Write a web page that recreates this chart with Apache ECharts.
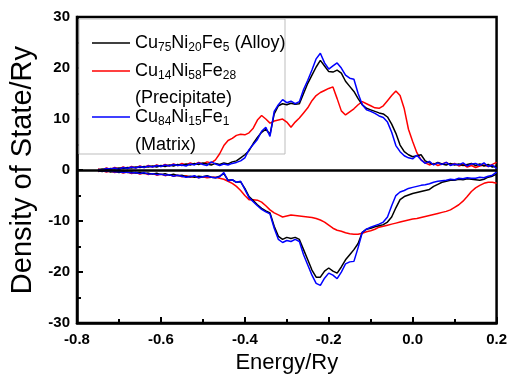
<!DOCTYPE html>
<html>
<head>
<meta charset="utf-8">
<script src="https://cdn.jsdelivr.net/npm/echarts@6/dist/echarts.min.js"></script>
<style>
  html, body { margin: 0; padding: 0; background: #fff; }
  #main { width: 510px; height: 379px; }
</style>
</head>
<body>
<div id="main"></div>
<script>
var energy = [
  -0.75, -0.74, -0.73, -0.72, -0.71, -0.70, -0.69, -0.68, -0.67, -0.66,
  -0.65, -0.64, -0.63, -0.62, -0.61, -0.60, -0.59, -0.58, -0.57, -0.56,
  -0.55, -0.54, -0.53, -0.52, -0.51, -0.50, -0.49, -0.48, -0.47, -0.46,
  -0.45, -0.44, -0.43, -0.42, -0.41, -0.40, -0.39, -0.38, -0.37, -0.36,
  -0.35, -0.34, -0.33, -0.32, -0.31, -0.30, -0.29, -0.28, -0.27, -0.26,
  -0.25, -0.24, -0.23, -0.22, -0.21, -0.20, -0.19, -0.18, -0.17, -0.16,
  -0.15, -0.14, -0.13, -0.12, -0.11, -0.10, -0.09, -0.08, -0.07, -0.06,
  -0.05, -0.04, -0.03, -0.02, -0.01, 0.00, 0.01, 0.02, 0.03, 0.04,
  0.05, 0.06, 0.07, 0.08, 0.09, 0.10, 0.11, 0.12, 0.13, 0.14,
  0.15, 0.16, 0.17, 0.18, 0.19, 0.20
];

// spin up (positive)
var alloyUp = [
  0.0, 0.2, 0.1, 0.3, 0.2, 0.4, 0.3, 0.5, 0.4, 0.6,
  0.5, 0.7, 0.6, 0.8, 0.6, 0.9, 0.7, 1.0, 0.8, 1.1,
  0.9, 1.2, 1.0, 1.3, 1.1, 1.4, 1.2, 1.0, 1.3, 1.1,
  1.4, 1.2, 1.6, 1.8, 2.4, 3.0, 3.8, 5.2, 6.4, 7.4,
  8.0, 7.0, 11.0, 12.6, 13.0, 12.8, 13.1, 12.9, 13.0, 15.0,
  17.0, 18.6, 20.2, 21.5, 20.4, 19.3, 19.2, 19.6, 19.0, 17.4,
  16.4, 15.4, 14.0, 12.8, 12.1, 11.8, 11.5, 11.2, 11.0, 10.4,
  9.0, 7.2, 4.9, 3.6, 3.0, 2.6, 2.8, 3.0, 1.8, 1.4,
  1.1, 1.5, 1.2, 1.0, 1.3, 1.0, 1.2, 0.9, 1.1, 1.3,
  0.9, 1.2, 0.8, 1.1, 0.6, 0.8
];
var precipUp = [
  0.2, 0.0, 0.4, 0.1, 0.5, 0.2, 0.6, 0.3, 0.7, 0.4,
  0.8, 0.5, 0.9, 0.6, 1.0, 0.7, 1.1, 0.8, 1.2, 0.9,
  1.3, 1.0, 1.4, 1.1, 1.5, 1.2, 1.6, 1.4, 2.0, 3.2,
  4.8, 5.8, 6.2, 6.8, 7.0, 6.9, 7.3, 8.2, 9.8, 10.7,
  10.0, 9.2, 9.6, 9.8, 10.0, 9.4, 8.4, 9.4, 10.2, 11.2,
  12.2, 13.6, 14.6, 15.2, 15.6, 16.0, 16.3, 14.0, 11.6, 10.8,
  11.4, 12.0, 12.8, 13.4, 13.0, 12.6, 12.2, 12.1, 12.6, 13.6,
  14.6, 15.5, 14.6, 12.0, 8.0, 5.6, 3.4, 2.0, 1.4, 1.0,
  1.3, 0.9, 1.2, 1.5, 1.0, 1.3, 0.8, 1.1, 0.6, 0.9,
  0.5, 0.8, 1.0, 0.7, 1.1, 1.5
];
var matrixUp = [
  0.1, 0.0, 0.3, 0.2, 0.4, 0.1, 0.5, 0.3, 0.6, 0.4,
  0.7, 0.5, 0.8, 0.6, 0.9, 0.7, 1.0, 0.8, 1.1, 0.9,
  1.0, 0.8, 1.2, 1.0, 1.4, 1.1, 0.9, 1.6, 1.2, 0.9,
  1.2, 1.0, 1.3, 1.5, 1.8, 2.4, 4.0, 5.0, 6.0, 7.6,
  8.4, 6.6, 11.5, 12.8, 13.8, 13.2, 13.5, 13.0, 13.4, 15.8,
  17.6, 19.6, 21.8, 22.9, 21.0, 19.8, 20.4, 21.0, 20.0, 18.6,
  18.0, 17.8, 15.0, 12.8, 11.8, 11.5, 11.1, 10.6, 10.3, 9.4,
  7.4, 4.8, 3.6, 2.8, 2.4, 2.2, 2.9, 2.0, 1.3, 1.7,
  1.0, 1.4, 1.1, 1.5, 0.9, 1.2, 1.0, 1.4, 0.8, 1.2,
  1.3, 0.9, 1.4, 0.7, 1.0, 0.3
];

// spin down (negative)
var alloyDown = [
  -0.1, -0.3, -0.1, -0.4, -0.2, -0.5, -0.3, -0.5, -0.4, -0.6,
  -0.5, -0.7, -0.6, -0.8, -0.6, -0.9, -0.7, -1.0, -0.8, -1.1,
  -1.0, -1.3, -1.2, -1.4, -1.2, -1.3, -1.1, -1.4, -1.5, -1.2,
  -0.7, -2.0, -1.9, -2.4, -2.3, -3.6, -5.2, -6.0, -6.8, -7.5,
  -8.0, -8.4, -11.0, -13.0, -13.6, -13.2, -13.4, -13.2, -13.6, -15.6,
  -17.6, -19.6, -21.0, -21.0, -19.8, -19.2, -19.8, -20.2, -19.0, -17.6,
  -16.6, -15.6, -14.4, -12.2, -11.6, -11.4, -11.1, -10.9, -10.7, -10.2,
  -9.2, -7.4, -5.8, -5.2, -4.9, -4.6, -4.4, -4.2, -4.0, -3.8,
  -3.2, -2.8, -2.4, -2.2, -2.0, -2.0, -1.8, -1.9, -1.7, -1.8,
  -1.9, -2.0, -1.8, -1.4, -1.2, -0.8
];
var precipDown = [
  -0.3, -0.1, -0.4, -0.2, -0.5, -0.3, -0.6, -0.4, -0.7, -0.5,
  -0.8, -0.6, -0.9, -0.7, -1.0, -0.8, -1.1, -0.9, -1.2, -1.0,
  -1.3, -1.1, -1.4, -1.2, -1.5, -1.3, -1.5, -1.4, -1.4, -1.6,
  -1.8, -2.2, -2.6, -3.2, -4.0, -5.0, -5.8, -5.8, -5.9, -6.3,
  -7.0, -7.8, -8.4, -8.8, -9.2, -9.0, -8.8, -8.9, -9.0, -9.1,
  -9.2, -9.3, -9.5, -9.8, -10.2, -10.8, -11.4, -11.8, -12.0, -12.3,
  -12.5, -12.6, -12.6, -12.4, -12.1, -11.9, -11.6, -11.2, -11.0, -10.8,
  -10.6, -10.4, -10.2, -10.0, -9.8, -9.6, -9.5, -9.3, -9.1, -8.9,
  -8.7, -8.5, -8.3, -8.1, -7.8, -7.3, -6.8, -6.1, -5.2, -4.2,
  -3.5, -3.0, -2.6, -2.4, -2.4, -2.6
];
var matrixDown = [
  -0.2, -0.1, -0.3, -0.2, -0.4, -0.3, -0.5, -0.4, -0.6, -0.5,
  -0.7, -0.5, -0.8, -0.7, -0.9, -0.8, -1.0, -0.9, -1.2, -1.0,
  -1.2, -1.4, -1.3, -1.1, -1.5, -1.3, -1.2, -1.4, -1.5, -1.3,
  -0.5, -2.1, -1.9, -2.4, -2.2, -3.8, -5.4, -6.2, -7.0, -7.7,
  -8.2, -8.6, -11.4, -13.6, -14.2, -13.8, -14.0, -13.6, -14.0, -16.6,
  -18.6, -20.6, -22.2, -22.6, -21.2, -20.2, -20.6, -21.3, -20.0, -18.4,
  -18.0, -17.9, -15.2, -12.2, -11.6, -11.2, -10.9, -10.6, -10.2, -9.2,
  -7.0, -5.0, -4.3, -4.0, -3.6, -3.4, -3.2, -3.0, -2.9, -2.7,
  -2.4, -2.2, -2.1, -2.0, -1.8, -1.9, -1.6, -1.7, -1.5, -1.6,
  -1.6, -1.4, -1.5, -1.2, -1.0, -0.4
];

var names = ['Cu75Ni20Fe5 (Alloy)', 'Cu14Ni58Fe28 (Precipitate)', 'Cu84Ni15Fe1 (Matrix)'];
var colors = ['#000000', '#ff0000', '#0000ff'];

function pairs(vals) {
  return energy.map(function (e, i) { return [e, vals[i]]; });
}

function line(name, color, vals, extra) {
  var s = {
    name: name,
    type: 'line',
    data: pairs(vals),
    showSymbol: false,
    symbol: 'none',
    lineStyle: { color: color, width: 1.5 },
    itemStyle: { color: color },
    z: 3
  };
  if (extra) s.markLine = extra;
  return s;
}

var zeroLine = {
  silent: true,
  symbol: 'none',
  label: { show: false },
  lineStyle: { color: '#000', width: 2.5, type: 'solid' },
  data: [{ yAxis: 0 }]
};

var labelFont = { fontFamily: 'Liberation Sans', fontWeight: 'bold', fontSize: 15, color: '#000' };

var rich = {
  n: { fontFamily: 'Liberation Sans', fontSize: 18, color: '#000', lineHeight: 22 },
  s: { fontFamily: 'Liberation Sans', fontSize: 12, color: '#000', lineHeight: 12, verticalAlign: 'bottom' }
};

var myChart = echarts.init(document.getElementById('main'));

var option = {
  animation: false,
  backgroundColor: '#fff',
  grid: {
    left: 77, right: 11, top: 17, bottom: 51,
    show: true, borderColor: '#000', borderWidth: 2.5
  },
  xAxis: {
    type: 'value',
    min: -0.8, max: 0.2, interval: 0.2,
    name: 'Energy/Ry',
    nameLocation: 'middle',
    nameGap: 27,
    nameTextStyle: { fontFamily: 'Liberation Sans', fontSize: 22, color: '#000' },
    axisLine: { onZero: false, lineStyle: { color: '#000', width: 2.5 } },
    axisTick: { inside: true, length: 6, lineStyle: { color: '#000', width: 2 } },
    minorTick: { show: true, splitNumber: 2, length: 4, lineStyle: { color: '#000', width: 2 } },
    splitLine: { show: false },
    axisLabel: Object.assign({ margin: 9, formatter: function (v) { return v.toFixed(1); } }, labelFont)
  },
  yAxis: {
    type: 'value',
    min: -30, max: 30, interval: 10,
    name: 'Density of State/Ry',
    nameLocation: 'middle',
    nameGap: 40,
    nameTextStyle: { fontFamily: 'Liberation Sans', fontSize: 29, color: '#000' },
    axisLine: { onZero: false, lineStyle: { color: '#000', width: 2.5 } },
    axisTick: { inside: true, length: 6, lineStyle: { color: '#000', width: 2 } },
    minorTick: { show: true, splitNumber: 2, length: 4, lineStyle: { color: '#000', width: 2 } },
    splitLine: { show: false },
    axisLabel: Object.assign({ margin: 7 }, labelFont)
  },
  graphic: [
    { type: 'rect', shape: { x: 79, y: 19, width: 206, height: 135 },
      style: { fill: '#fff', stroke: '#bdbdbd', lineWidth: 1 }, z: 1 },
    { type: 'line', shape: { x1: 92, y1: 43, x2: 130, y2: 43 }, style: { stroke: colors[0], lineWidth: 1.5 }, z: 10 },
    { type: 'line', shape: { x1: 92, y1: 71, x2: 130, y2: 71 }, style: { stroke: colors[1], lineWidth: 1.5 }, z: 10 },
    { type: 'line', shape: { x1: 92, y1: 117, x2: 130, y2: 117 }, style: { stroke: colors[2], lineWidth: 1.5 }, z: 10 },
    { type: 'text', x: 135, y: 43, z: 10,
      style: { text: '{n|Cu}{s|75}{n|Ni}{s|20}{n|Fe}{s|5}{n| (Alloy)}', rich: rich, verticalAlign: 'middle' } },
    { type: 'text', x: 135, y: 71, z: 10,
      style: { text: '{n|Cu}{s|14}{n|Ni}{s|58}{n|Fe}{s|28}', rich: rich, verticalAlign: 'middle' } },
    { type: 'text', x: 135, y: 98, z: 10,
      style: { text: '{n|(Precipitate)}', rich: rich, verticalAlign: 'middle' } },
    { type: 'text', x: 135, y: 117, z: 10,
      style: { text: '{n|Cu}{s|84}{n|Ni}{s|15}{n|Fe}{s|1}', rich: rich, verticalAlign: 'middle' } },
    { type: 'text', x: 135, y: 145, z: 10,
      style: { text: '{n|(Matrix)}', rich: rich, verticalAlign: 'middle' } }
  ],
  series: [
    line(names[1], colors[1], precipUp, zeroLine),
    line(names[1], colors[1], precipDown),
    line(names[0], colors[0], alloyUp),
    line(names[0], colors[0], alloyDown),
    line(names[2], colors[2], matrixUp),
    line(names[2], colors[2], matrixDown)
  ]
};
myChart.setOption(option);
</script>
</body>
</html>
